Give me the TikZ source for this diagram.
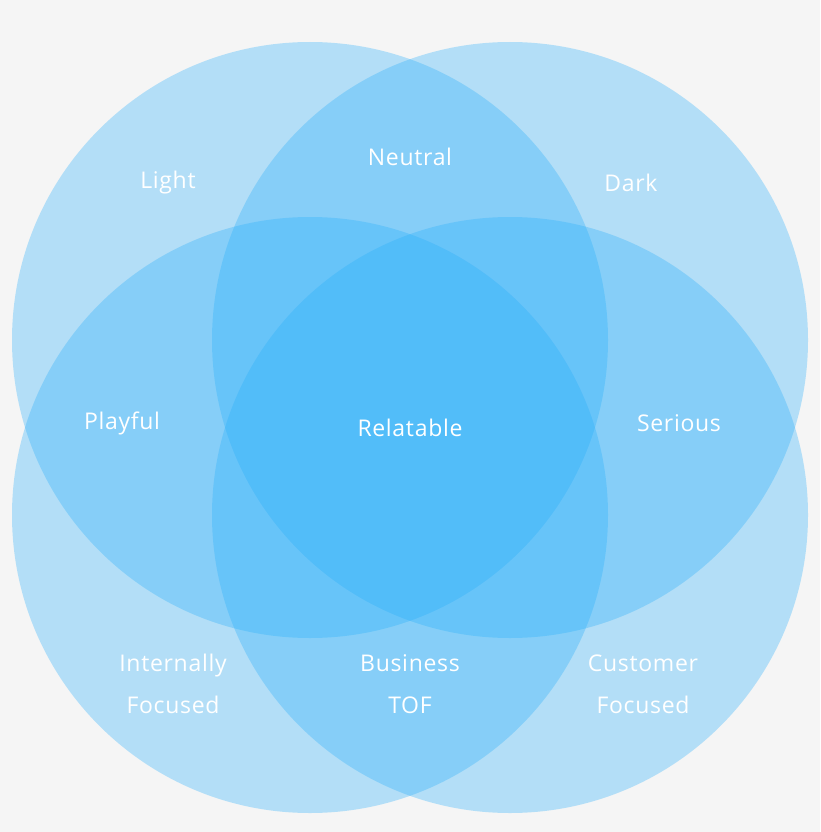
\documentclass[tikz,border=0pt]{standalone}
\usepackage{fontspec}
\setmainfont{Open Sans}[LetterSpace=3]
\definecolor{bg}{HTML}{F5F5F5}
\definecolor{cb}{RGB}{40,175,252}
\begin{document}
\begin{tikzpicture}[x=1pt,y=-1pt,
  circ/.style={fill=cb,fill opacity=0.32,draw=none},
  lab/.style={text=white,font=\fontsize{23}{42}\selectfont,align=center}]
\fill[bg] (0,0) rectangle (820,832);
\useasboundingbox (0,0) rectangle (820,832);
\node[circ,circle,minimum size=596pt,inner sep=0] (tl) at (310,340) {};
\node[circ,circle,minimum size=596pt,inner sep=0] (tr) at (510,340) {};
\node[circ,circle,minimum size=596pt,inner sep=0] (bl) at (310,515) {};
\node[circ,circle,minimum size=596pt,inner sep=0] (br) at (510,515) {};
\node[lab] (l1) at (168,183) {Light};
\node[lab] (l2) at (410,157) {Neutral};
\node[lab] (l3) at (631,183) {Dark};
\node[lab] (l4) at (122,423) {Playful};
\node[lab] (l5) at (410,428) {Relatable};
\node[lab] (l6) at (679,423) {Serious};
\node[lab] (l7) at (173,684) {Internally\\Focused};
\node[lab] (l8) at (410,684) {Business\\TOF};
\node[lab] (l9) at (643,684) {Customer\\Focused};
\end{tikzpicture}
\end{document}
